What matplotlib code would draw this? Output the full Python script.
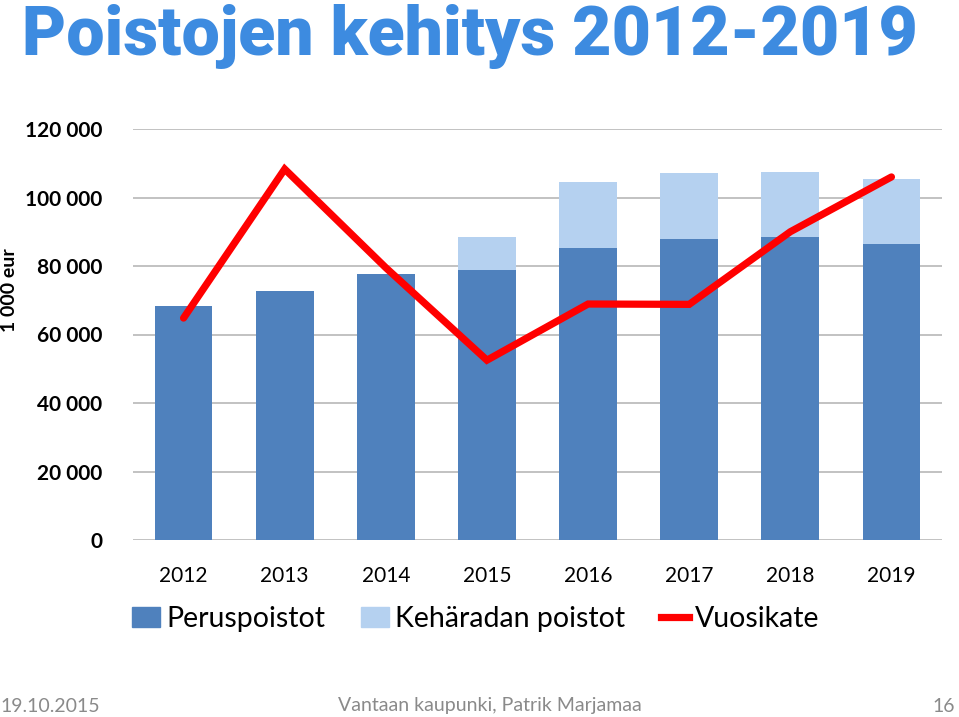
import numpy as np
import matplotlib.pyplot as plt
from matplotlib.patches import Patch
from matplotlib.lines import Line2D

years = ['2012', '2013', '2014', '2015', '2016', '2017', '2018', '2019']
peruspoistot = [68300, 72700, 77700, 78800, 85200, 88000, 88400, 86300]
keharata = [0, 0, 0, 9700, 19400, 19200, 19100, 19200]
vuosikate = [64800, 108300, 79500, 52500, 68900, 68800, 90000, 106000]
yticks = [0, 20000, 40000, 60000, 80000, 100000, 120000]
ytick_labels = ['0', '20 000', '40 000', '60 000', '80 000', '100 000', '120 000']

dark = '#4f81bd'
light = '#b5d1f0'
red = '#ff0000'
grid = '#bdbdbd'
title_blue = '#3d8be0'

fig = plt.figure(figsize=(9.59, 7.17), dpi=100)
ax = fig.add_axes([133/959, 1-540/717, 809/959, 411/717])

x = np.arange(len(years))
ax.bar(x, peruspoistot, width=0.57, color=dark, zorder=2)
ax.bar(x, keharata, width=0.57, bottom=peruspoistot, color=light, zorder=2)
ax.plot(x, vuosikate, color=red, lw=5.2, solid_capstyle='round', solid_joinstyle='miter', zorder=3)

ax.set_xlim(-0.5, len(years) - 0.5)
ax.set_ylim(0, 120000)
ax.set_yticks(yticks)
ax.set_yticklabels(ytick_labels, fontfamily='Lato', fontweight='bold', fontsize=15)
ax.set_xticks(x)
ax.set_xticklabels(years, fontfamily='Lato', fontsize=15)
ax.tick_params(axis='both', length=0)
ax.tick_params(axis='y', pad=22)
ax.tick_params(axis='x', pad=19)
ax.yaxis.grid(True, color=grid, lw=1.3, zorder=0)
ax.set_axisbelow(True)
for s in ax.spines.values():
    s.set_visible(False)

fig.text(10/959, 1-290/717, '1 000 eur', rotation=90, ha='center', va='center',
         fontfamily='Lato', fontweight='bold', fontsize=14)

fig.text(22/959, 1-55/717, 'Poistojen kehitys 2012-2019', color=title_blue,
         fontfamily='Roboto', fontweight='heavy', fontsize=49, va='baseline')

handles = [Patch(color=dark), Patch(color=light), Line2D([], [], color=red, lw=5.2)]
fig.legend(handles, ['Peruspoistot', 'Kehäradan poistot', 'Vuosikate'], ncol=3,
           loc='center left', bbox_to_anchor=(132/959, 1-619/717), frameon=False,
           prop={'family': 'Lato', 'size': 20.5}, handlelength=1.0, handleheight=0.65,
           handletextpad=0.2, columnspacing=1.25, borderpad=0, borderaxespad=0)

foot = {'family': 'Lato', 'weight': 'normal', 'size': 14, 'color': '#8a8a8a'}
fig.text(0, 1-706/717, '19.10.2015', ha='left', va='center', fontdict=foot)
fig.text(490/959, 1-706/717, 'Vantaan kaupunki, Patrik Marjamaa', ha='center', va='center', fontdict=foot)
fig.text(955/959, 1-706/717, '16', ha='right', va='center', fontdict=foot)

fig.savefig('out.png', dpi=100)
